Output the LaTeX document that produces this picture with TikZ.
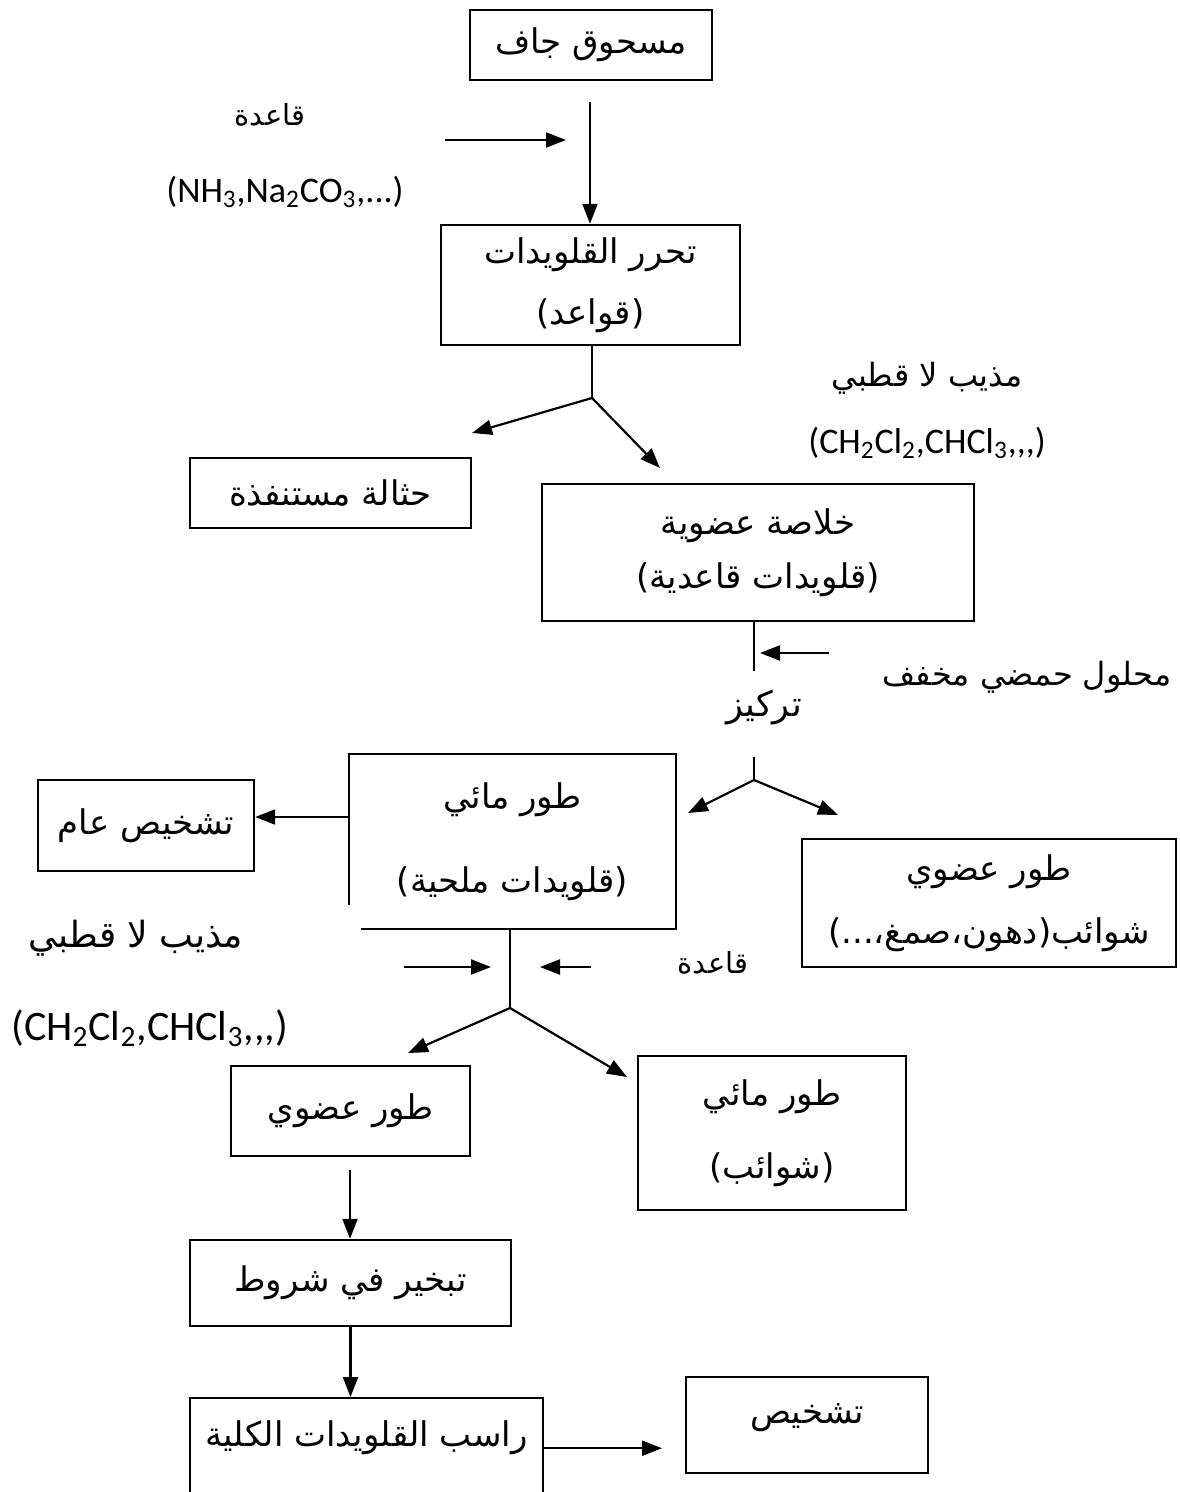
\documentclass[tikz,border=0pt]{standalone}
\usepackage{fontspec}
\setmainfont{DejaVu Sans}
\newfontfamily\arabicfont[Script=Arabic]{DejaVu Sans}
\newfontfamily\formulafont{Carlito}
\TeXXeTstate=1
\usetikzlibrary{arrows.meta}
\newcommand\rtl[1]{{\arabicfont\beginR #1\endR}}

\begin{document}
\begin{tikzpicture}[x=0.5pt, y=-0.5pt,
   stage/.style={draw, line width=1.2pt, inner sep=0pt, align=center, font=\fontsize{17}{20}\selectfont},
   lbl/.style={inner sep=0pt, font=\fontsize{14.5}{17}\selectfont},
   chem/.style={inner sep=0pt, font=\formulafont\fontsize{18}{22}\selectfont},
   flow/.style={line width=1.1pt, -{Triangle[length=10pt, width=7.5pt]}},
   link/.style={line width=1pt}]
   \useasboundingbox (0,0) rectangle (1179,1492);
   \node[stage, minimum width=121pt, minimum height=35pt] (powder) at (591,45) {\rtl{مسحوق جاف}};
   \node[stage, minimum width=149.5pt, minimum height=60pt] (free) at (590.5,285) {\rtl{تحرر القلويدات}\\[10.5pt]\rtl{(قواعد)}};
   \node[stage, minimum width=140.5pt, minimum height=35pt] (res) at (330.5,493) {\rtl{حثالة مستنفذة}};
   \node[stage, minimum width=216pt, minimum height=68.5pt] (ext) at (758,552.5) {\rtl{خلاصة عضوية}\\[7pt]\rtl{(قلويدات قاعدية)}};
   \node[stage, draw=none, minimum width=162.5pt, minimum height=86.5pt] (aq) at (512.5,841.5) {\rtl{طور مائي}\\[22pt]\rtl{(قلويدات ملحية)}};
   \node[stage, minimum width=108pt, minimum height=45.5pt] (diag) at (146,825.5) {\rtl{تشخيص عام}};
   \node[stage, minimum width=187pt, minimum height=64pt] (orgimp) at (989,903) {\rtl{طور عضوي}\\[11.5pt]\rtl{شوائب(دهون،صمغ،...)}};
   \node[stage, minimum width=119.5pt, minimum height=45pt] (org) at (350.5,1111) {\rtl{طور عضوي}};
   \node[stage, minimum width=134pt, minimum height=77pt] (aqimp) at (772,1133) {\rtl{طور مائي}\\[16.5pt]\rtl{(شوائب)}};
   \node[stage, minimum width=160.5pt, minimum height=43pt] (evap) at (350.5,1283) {\rtl{تبخير في شروط}};
   \node[stage, minimum width=176.5pt, text height=24pt, text depth=26pt, anchor=north] (prec) at (366.5,1397) {\rtl{راسب القلويدات الكلية}};
   \node[stage, minimum width=121pt, text height=23pt, text depth=25pt] (ident) at (807,1425) {\rtl{تشخيص}};
   \node[lbl] (base1) at (270,115) {\rtl{قاعدة}};
   \node[chem, anchor=east] (nh) at (404,192) {(NH\textsubscript{3},Na\textsubscript{2}CO\textsubscript{3},...)};
   \node[lbl, font=\fontsize{16}{19}\selectfont] (solv1) at (927,378) {\rtl{مذيب لا قطبي}};
   \node[chem] (chl1) at (927,443) {(CH\textsubscript{2}Cl\textsubscript{2},CHCl\textsubscript{3},,,)};
   \node[lbl, font=\fontsize{16}{19}\selectfont] (acid) at (1027,677) {\rtl{محلول حمضي مخفف}};
   \node[lbl, font=\fontsize{17.5}{20}\selectfont] (conc) at (764,707) {\rtl{تركيز}};
   \node[lbl, font=\fontsize{18}{21}\selectfont] (solv2) at (136,938) {\rtl{مذيب لا قطبي}};
   \node[chem, font=\formulafont\fontsize{21}{25}\selectfont, anchor=west] (chl2) at (11,1028) {(CH\textsubscript{2}Cl\textsubscript{2},CHCl\textsubscript{3},,,)};
   \node[lbl] (base2) at (713,963) {\rtl{قاعدة}};
   \coordinate (p0) at (590,102);
   \coordinate (b0) at (445,140);
   \coordinate (b1) at (566,140);
   \coordinate (j1) at (592,398);
   \coordinate (t1) at (472,433);
   \coordinate (t2) at (660,468);
   \coordinate (j2) at (754,671);
   \coordinate (a0) at (829,653);
   \coordinate (a1) at (760,653);
   \coordinate (k3) at (754,757);
   \coordinate (j3) at (754,780);
   \coordinate (t3) at (688,813);
   \coordinate (t4) at (838,815);
   \coordinate (j4) at (510,1008);
   \coordinate (s0) at (404,967);
   \coordinate (s1) at (491,967);
   \coordinate (s2) at (591,967);
   \coordinate (s3) at (540,967);
   \coordinate (t5) at (408,1053);
   \coordinate (t6) at (627,1077);
   \coordinate (e0) at (350,1170);
   \coordinate (r1) at (662,1447);
   \draw[flow] (p0) -- (p0 |- free.north);
   \draw[flow] (b0) -- (b1);
   \draw[link] (j1 |- free.south) -- (j1);
   \draw[flow] (j1) -- (t1);
   \draw[flow] (j1) -- (t2);
   \draw[link] (j2 |- ext.south) -- (j2);
   \draw[flow] (a0) -- (a1);
   \draw[link] (k3) -- (j3);
   \draw[flow] (j3) -- (t3);
   \draw[flow] (j3) -- (t4);
   \draw[line width=1.2pt] ([yshift=12pt]aq.south west) -- (aq.north west) -- (aq.north east) -- (aq.south east) -- ([xshift=6pt]aq.south west);
   \draw[flow] ([yshift=12.25pt]aq.west) -- ([yshift=12.25pt]aq.west -| diag.east);
   \draw[link] (j4 |- aq.south) -- (j4);
   \draw[flow] (s0) -- (s1);
   \draw[flow] (s2) -- (s3);
   \draw[flow] (j4) -- (t5);
   \draw[flow] (j4) -- (t6);
   \draw[flow] (e0) -- (e0 |- evap.north);
   \draw[flow] (evap.south) -- (evap.south |- prec.north);
   \draw[flow] (prec.east) -- (prec.east -| r1);
\end{tikzpicture}
\end{document}
